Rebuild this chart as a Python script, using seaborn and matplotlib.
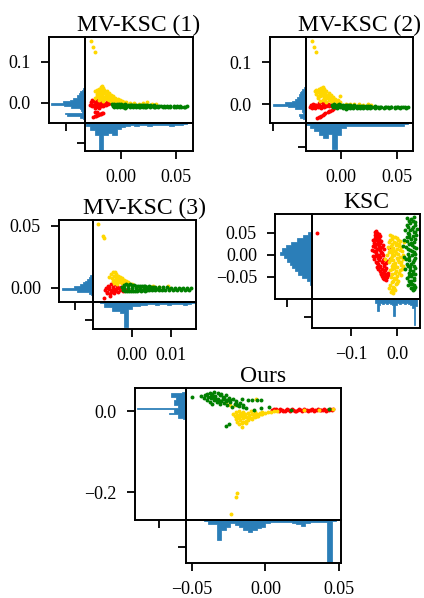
import numpy as np
import pandas as pd
import matplotlib
matplotlib.use("Agg")
import matplotlib.pyplot as plt
import seaborn as sns

# ---------------- MV-KSC (1) ----------------
p1_red = [(-0.028, -0.004), (-0.027, 0.002), (-0.026, -0.008), (-0.025, 0.004), (-0.024, -0.002),
          (-0.023, -0.010), (-0.022, 0.006), (-0.021, 0.000), (-0.020, -0.006), (-0.019, 0.003),
          (-0.018, -0.003), (-0.017, 0.005), (-0.016, -0.008), (-0.015, 0.001), (-0.014, -0.004),
          (-0.013, 0.003), (-0.012, -0.002), (-0.011, 0.002), (-0.010, -0.001), (-0.009, 0.000),
          (-0.024, -0.012), (-0.020, -0.013), (-0.026, 0.006), (-0.027, -0.006), (-0.025, -0.004),
          (-0.023, 0.002), (-0.021, -0.004), (-0.019, -0.002), (-0.017, -0.001), (-0.015, -0.004),
          (-0.013, 0.000), (-0.022, -0.008), (-0.018, -0.007),
          (-0.0255, -0.034), (-0.024, -0.032), (-0.023, -0.031), (-0.022, -0.030), (-0.021, -0.029),
          (-0.020, -0.028), (-0.019, -0.027), (-0.018, -0.026), (-0.017, -0.025), (-0.0165, -0.024),
          (-0.0236, -0.0227), (-0.022, -0.021)]
p1_gold = [(-0.0273, 0.151), (-0.0252, 0.136), (-0.0234, 0.124),
           (-0.0235, 0.028), (-0.022, 0.031), (-0.020, 0.033), (-0.018, 0.038), (-0.0175, 0.041),
           (-0.016, 0.036), (-0.015, 0.032), (-0.013, 0.028), (-0.011, 0.024), (-0.009, 0.020),
           (-0.007, 0.016), (-0.005, 0.012), (-0.003, 0.009), (-0.001, 0.006), (0.001, 0.004),
           (0.003, 0.003), (-0.022, 0.022), (-0.020, 0.025), (-0.018, 0.027), (-0.016, 0.024),
           (-0.014, 0.020), (-0.012, 0.017), (-0.010, 0.014), (-0.008, 0.011), (-0.006, 0.008),
           (-0.004, 0.006), (-0.002, 0.004), (-0.024, 0.012), (-0.021, 0.015), (-0.019, 0.018),
           (-0.017, 0.013), (-0.015, 0.010), (-0.013, 0.009), (-0.011, 0.007), (-0.009, 0.005),
           (-0.007, 0.003), (-0.005, 0.002), (-0.020, 0.008), (-0.016, 0.004),
           (-0.021, 0.028), (-0.019, 0.031), (-0.017, 0.034), (-0.017, 0.029), (-0.015, 0.027),
           (-0.013, 0.023), (-0.011, 0.019), (-0.009, 0.016), (-0.007, 0.012), (-0.005, 0.009),
           (-0.019, 0.022), (-0.017, 0.019), (-0.015, 0.015), (-0.013, 0.012), (-0.022, 0.018),
           (-0.018, 0.010),
           (0.005, 0.002), (0.008, -0.001), (0.012, 0.001), (0.016, -0.002), (0.020, -0.001),
           (0.024, 0.002), (0.028, -0.003), (0.032, -0.002)]
p1_green = [(-0.008, -0.003), (-0.006, -0.002), (-0.004, -0.003), (-0.002, -0.002), (0.000, -0.003),
            (0.002, -0.004), (0.004, -0.003), (0.006, -0.004), (0.008, -0.004), (0.010, -0.005),
            (0.012, -0.004), (0.014, -0.005), (0.016, -0.005), (0.018, -0.006), (0.020, -0.005),
            (0.022, -0.006), (0.024, -0.006), (0.026, -0.006), (0.028, -0.007), (0.030, -0.006),
            (0.033, -0.007), (0.036, -0.007), (0.039, -0.007), (0.042, -0.008), (0.045, -0.007),
            (0.048, -0.008), (0.051, -0.008), (0.054, -0.008), (0.057, -0.009), (0.060, -0.008),
            (-0.007, -0.008), (-0.004, -0.010), (-0.001, -0.009), (0.002, -0.011), (0.005, -0.010),
            (0.008, -0.011), (0.011, -0.010), (0.014, -0.011), (0.017, -0.010), (0.020, -0.011),
            (0.023, -0.010), (0.026, -0.011), (0.030, -0.010), (0.034, -0.010), (0.038, -0.010),
            (0.043, -0.010), (0.048, -0.010), (0.053, -0.010), (0.058, -0.010),
            (-0.005, -0.006), (0.001, -0.007), (0.007, -0.007), (0.013, -0.008), (0.019, -0.008),
            (0.025, -0.008), (0.031, -0.009), (0.040, -0.009), (0.050, -0.009),
            (-0.007, -0.005), (-0.003, -0.006), (0.003, -0.006), (0.009, -0.006), (0.015, -0.007),
            (0.021, -0.007), (0.027, -0.007), (0.035, -0.008), (0.045, -0.009), (0.055, -0.009),
            (-0.006, -0.009), (0.004, -0.012), (0.010, -0.008), (0.016, -0.009), (0.022, -0.009)]
p1_ybins = (-0.040, 0.004)
p1_ycounts = [2, 5, 18, 20, 3, 4, 5, 14, 21, 34, 22, 15, 12, 8, 8, 6, 5, 3, 2]
p1_xbins = (-0.032, 0.004)
p1_xcounts = [3, 7, 12, 27, 12, 10, 12, 6, 4, 3, 2, 3, 2, 2, 3, 2, 2, 2, 2, 3, 2, 2, 1]

# ---------------- MV-KSC (2) ----------------
p2_red = [(-0.028, -0.006), (-0.027, -0.002), (-0.026, -0.009), (-0.025, 0.000), (-0.024, -0.005),
          (-0.023, -0.010), (-0.022, -0.002), (-0.021, -0.007), (-0.020, 0.002), (-0.019, -0.004),
          (-0.018, -0.009), (-0.017, 0.004), (-0.016, -0.003), (-0.0155, 0.009), (-0.015, -0.007),
          (-0.014, 0.001), (-0.013, -0.004), (-0.012, -0.001), (-0.011, -0.005), (-0.010, -0.002),
          (-0.009, -0.003), (-0.008, -0.004), (-0.027, -0.004), (-0.025, -0.007), (-0.023, -0.003),
          (-0.021, -0.004), (-0.019, -0.007), (-0.017, -0.005), (-0.013, -0.002), (-0.024, -0.002),
          (-0.0217, -0.034), (-0.020, -0.031), (-0.018, -0.028), (-0.016, -0.025), (-0.014, -0.022),
          (-0.012, -0.019), (-0.010, -0.016), (-0.008, -0.013), (-0.006, -0.010), (-0.004, -0.007),
          (-0.019, -0.030), (-0.015, -0.024), (-0.011, -0.017), (-0.007, -0.011)]
p2_gold = [(-0.0256, 0.150), (-0.0238, 0.135), (-0.0223, 0.123),
           (-0.0235, 0.030), (-0.022, 0.033), (-0.020, 0.036), (-0.018, 0.039), (-0.016, 0.041),
           (-0.015, 0.037), (-0.013, 0.032), (-0.011, 0.027), (-0.009, 0.022), (-0.007, 0.017),
           (-0.005, 0.013), (-0.003, 0.009), (-0.001, 0.006), (-0.022, 0.024), (-0.020, 0.028),
           (-0.018, 0.031), (-0.016, 0.030), (-0.014, 0.026), (-0.012, 0.021), (-0.010, 0.017),
           (-0.008, 0.013), (-0.006, 0.009), (-0.004, 0.006), (-0.021, 0.015), (-0.019, 0.019),
           (-0.017, 0.022), (-0.015, 0.018), (-0.013, 0.014), (-0.011, 0.010), (-0.009, 0.008),
           (-0.007, 0.005), (-0.019, 0.008), (-0.016, 0.010), (-0.013, 0.006), (-0.001, 0.019),
           (-0.021, 0.030), (-0.019, 0.034), (-0.017, 0.036), (-0.017, 0.027), (-0.015, 0.023),
           (-0.013, 0.019), (-0.011, 0.015), (-0.009, 0.012), (-0.007, 0.010), (-0.019, 0.024),
           (-0.021, 0.020), (-0.015, 0.013), (-0.011, 0.012),
           (0.004, 0.000), (0.008, 0.001), (0.012, -0.001), (0.016, 0.000), (0.020, -0.002),
           (0.024, 0.001), (0.027, -0.002)]
p2_green = [(-0.008, -0.002), (-0.006, -0.001), (-0.004, -0.002), (-0.002, -0.001), (0.000, -0.002),
            (0.002, -0.003), (0.004, -0.002), (0.006, -0.003), (0.008, -0.003), (0.010, -0.004),
            (0.012, -0.003), (0.014, -0.004), (0.016, -0.004), (0.018, -0.005), (0.020, -0.004),
            (0.022, -0.005), (0.024, -0.005), (0.026, -0.005), (0.028, -0.006), (0.030, -0.005),
            (0.033, -0.006), (0.036, -0.006), (0.039, -0.006), (0.042, -0.007), (0.045, -0.006),
            (0.048, -0.007), (0.051, -0.007), (0.054, -0.007), (0.057, -0.008), (0.060, -0.007),
            (-0.007, -0.007), (-0.004, -0.009), (-0.001, -0.008), (0.002, -0.009), (0.005, -0.009),
            (0.008, -0.010), (0.011, -0.009), (0.014, -0.010), (0.017, -0.009), (0.020, -0.010),
            (0.023, -0.009), (0.026, -0.010), (0.030, -0.009), (0.034, -0.010), (0.038, -0.009),
            (0.043, -0.010), (0.048, -0.009), (0.053, -0.010), (0.058, -0.010),
            (-0.005, -0.005), (0.001, -0.006), (0.007, -0.006), (0.013, -0.007), (0.019, -0.007),
            (0.025, -0.007), (0.031, -0.008), (0.040, -0.008), (0.050, -0.008),
            (-0.007, -0.004), (-0.003, -0.005), (0.003, -0.005), (0.009, -0.005), (0.015, -0.006),
            (0.021, -0.006), (0.027, -0.006), (0.035, -0.007), (0.045, -0.008), (0.055, -0.008),
            (-0.006, -0.008), (0.004, -0.011), (0.010, -0.007), (0.016, -0.008), (0.022, -0.008)]
p2_ybins = (-0.036, 0.004)
p2_ycounts = [3, 6, 7, 3, 4, 4, 11, 18, 33, 21, 14, 11, 9, 7, 7, 6, 5, 4, 2]
p2_xbins = (-0.032, 0.004)
p2_xcounts = [2, 5, 8, 12, 15, 11, 26, 12, 5, 3, 3, 3, 3, 3, 3, 3, 3, 3, 3, 3, 3, 3, 1]

# ---------------- MV-KSC (3) ----------------
p3_red = [(-0.0068, -0.002), (-0.0065, 0.000), (-0.0063, -0.004), (-0.0060, 0.002), (-0.0058, -0.001),
          (-0.0055, -0.005), (-0.0053, 0.003), (-0.0050, -0.002), (-0.0048, 0.001), (-0.0045, -0.004),
          (-0.0043, 0.0035), (-0.0040, -0.001), (-0.0038, 0.002), (-0.0035, -0.003), (-0.0033, 0.000),
          (-0.0030, -0.0015), (-0.0028, 0.001), (-0.0069, -0.0083), (-0.0055, -0.0065),
          (-0.0062, -0.003), (-0.0057, 0.001), (-0.0052, -0.0035), (-0.0047, -0.001), (-0.0042, -0.0025),
          (-0.0022, -0.0025), (-0.0018, -0.002), (-0.0013, -0.0015), (-0.0010, -0.001)]
p3_gold = [(-0.0084, 0.0516), (-0.0072, 0.0422), (-0.0070, 0.0406),
           (-0.0056, 0.009), (-0.0052, 0.011), (-0.0047, 0.0125), (-0.0043, 0.0128), (-0.0040, 0.0115),
           (-0.0035, 0.010), (-0.0030, 0.009), (-0.0025, 0.008), (-0.0020, 0.0065), (-0.0015, 0.0055),
           (-0.0010, 0.0045), (-0.0005, 0.0035), (0.0000, 0.003), (0.0003, 0.0024),
           (-0.0050, 0.0080), (-0.0045, 0.0095), (-0.0040, 0.0090), (-0.0035, 0.0075), (-0.0030, 0.0065),
           (-0.0025, 0.0055), (-0.0020, 0.0045), (-0.0015, 0.0035), (-0.0010, 0.0028),
           (-0.0048, 0.0060), (-0.0042, 0.0068), (-0.0036, 0.0058), (-0.0030, 0.0045), (-0.0025, 0.0038),
           (-0.0045, 0.0040), (-0.0038, 0.0030),
           (0.0015, 0.0008), (0.003, 0.001), (0.0049, 0.001), (0.0055, 0.0012), (0.007, 0.0006),
           (0.0091, 0.0016)]
p3_green = [(-0.0025, 0.0010), (-0.0020, 0.0025), (-0.0015, 0.0030), (-0.0010, 0.0025), (-0.0005, 0.0030),
            (0.0000, 0.0025), (0.0005, 0.0022), (0.0010, 0.0020), (0.0015, 0.0018), (0.0020, 0.0015),
            (0.0025, 0.0018), (0.0030, 0.0012), (0.0035, 0.0015), (0.0040, 0.0010), (0.0045, 0.0012),
            (0.0050, 0.0010), (0.0055, 0.0008), (0.0060, 0.0010), (0.0070, 0.0005), (0.0080, 0.0006),
            (0.0090, 0.0004), (0.0100, 0.0003), (0.0110, 0.0002), (0.0120, 0.0002), (0.0130, 0.0000),
            (0.0140, 0.0000), (0.0150, -0.0001),
            (-0.0022, -0.0020), (-0.0017, -0.0025), (-0.0012, -0.0028), (-0.0007, -0.0025), (-0.0002, -0.0028),
            (0.0003, -0.0024), (0.0008, -0.0022), (0.0013, -0.0024), (0.0018, -0.0020), (0.0023, -0.0022),
            (0.0028, -0.0020), (0.0033, -0.0021), (0.0038, -0.0019), (0.0045, -0.0020), (0.0052, -0.0018),
            (0.0060, -0.0019), (0.0068, -0.0017), (0.0076, -0.0018), (0.0085, -0.0016), (0.0095, -0.0017),
            (0.0105, -0.0015), (0.0115, -0.0016), (0.0125, -0.0014), (0.0135, -0.0015), (0.0145, -0.0014),
            (-0.0018, 0.0000), (-0.0008, -0.0003), (0.0002, 0.0000), (0.0012, -0.0004), (0.0022, -0.0002),
            (0.0032, -0.0005), (0.0042, -0.0004), (0.0055, -0.0006), (0.0065, -0.0005), (0.0080, -0.0007),
            (0.0095, -0.0006), (0.0110, -0.0007), (0.0125, -0.0007), (0.0140, -0.0008)]
p3_ybins = (-0.006, 0.0015)
p3_ycounts = [2, 4, 16, 31, 19, 13, 10, 8, 6, 4, 3, 1]
p3_xbins = (-0.008, 0.001)
p3_xcounts = [1, 5, 5, 9, 9, 11, 25, 7, 4, 4, 3, 3, 2, 2, 3, 2, 2, 3, 2, 2, 2, 3, 2, 1]

# ---------------- KSC ----------------
p4_red = [(-0.1746, 0.0493),
          (-0.045, 0.055), (-0.043, 0.050), (-0.047, 0.046), (-0.041, 0.044), (-0.044, 0.040),
          (-0.049, 0.038), (-0.039, 0.036), (-0.046, 0.033), (-0.042, 0.030), (-0.050, 0.028),
          (-0.036, 0.027), (-0.044, 0.024), (-0.040, 0.020), (-0.047, 0.018), (-0.033, 0.017),
          (-0.043, 0.014), (-0.038, 0.011), (-0.050, 0.009), (-0.035, 0.007), (-0.045, 0.004),
          (-0.040, 0.001), (-0.030, 0.000), (-0.047, -0.003), (-0.036, -0.005), (-0.042, -0.008),
          (-0.028, -0.009), (-0.039, -0.012), (-0.046, -0.015), (-0.033, -0.016), (-0.025, -0.018),
          (-0.041, -0.020), (-0.036, -0.024), (-0.029, -0.026), (-0.044, -0.028), (-0.033, -0.031),
          (-0.026, -0.034), (-0.038, -0.036), (-0.030, -0.040), (-0.035, -0.044), (-0.027, -0.047),
          (-0.022, -0.050), (-0.031, -0.052), (-0.024, -0.056), (-0.055, 0.012), (-0.052, -0.002),
          (-0.020, -0.040), (-0.015, -0.010), (-0.018, 0.015),
          (-0.048, 0.051), (-0.040, 0.048), (-0.038, 0.042), (-0.052, 0.035), (-0.034, 0.032),
          (-0.048, 0.025), (-0.030, 0.022), (-0.053, 0.020), (-0.037, 0.016), (-0.028, 0.013),
          (-0.046, 0.010), (-0.032, 0.004), (-0.043, -0.001), (-0.050, -0.010), (-0.031, -0.012),
          (-0.022, -0.014), (-0.044, -0.018), (-0.028, -0.021), (-0.039, -0.028), (-0.023, -0.029),
          (-0.041, -0.033), (-0.029, -0.036), (-0.034, -0.040), (-0.025, -0.043), (-0.032, -0.048),
          (-0.019, -0.046), (-0.028, -0.054)]
p4_gold = [(-0.015, 0.045), (-0.005, 0.040), (-0.010, 0.036), (0.002, 0.034), (-0.018, 0.030),
           (-0.006, 0.029), (0.005, 0.026), (-0.012, 0.024), (-0.002, 0.022), (-0.020, 0.019),
           (0.008, 0.018), (-0.008, 0.016), (0.001, 0.013), (-0.015, 0.011), (-0.004, 0.009),
           (0.010, 0.008), (-0.011, 0.005), (0.003, 0.003), (-0.022, 0.001), (-0.007, -0.001),
           (0.006, -0.004), (-0.014, -0.006), (-0.001, -0.008), (0.012, -0.010), (-0.009, -0.012),
           (0.004, -0.015), (-0.018, -0.017), (-0.004, -0.019), (0.008, -0.022), (-0.012, -0.024),
           (0.001, -0.027), (-0.007, -0.030), (0.010, -0.032), (-0.015, -0.035), (-0.002, -0.037),
           (0.005, -0.041), (-0.010, -0.044), (0.000, -0.048), (-0.006, -0.053), (0.003, -0.058),
           (-0.012, -0.062), (-0.003, -0.067), (-0.009, -0.072), (-0.018, -0.075), (-0.004, -0.079),
           (-0.014, -0.084), (-0.008, -0.086), (0.015, 0.030), (-0.026, -0.010),
           (-0.012, 0.042), (0.000, 0.038), (-0.016, 0.033), (0.007, 0.031), (-0.003, 0.027),
           (-0.014, 0.020), (0.004, 0.020), (-0.010, 0.012), (0.006, 0.011), (-0.018, 0.007),
           (-0.002, 0.004), (0.013, 0.001), (-0.010, -0.003), (0.002, -0.011), (-0.016, -0.011),
           (0.009, -0.016), (-0.008, -0.020), (0.013, -0.024), (-0.004, -0.025), (-0.011, -0.032),
           (0.006, -0.035), (-0.005, -0.042), (0.008, -0.046), (-0.013, -0.050), (-0.002, -0.055),
           (-0.008, -0.060), (0.000, -0.064), (-0.015, -0.068), (-0.006, -0.076), (-0.011, -0.080)]
p4_green = [(0.037, 0.087), (0.021, 0.083), (0.034, 0.078), (0.028, 0.072), (0.039, 0.068),
            (0.024, 0.064), (0.032, 0.060), (0.018, 0.056), (0.036, 0.052), (0.027, 0.048),
            (0.041, 0.045), (0.022, 0.041), (0.031, 0.037), (0.015, 0.034), (0.038, 0.030),
            (0.026, 0.026), (0.033, 0.022), (0.019, 0.018), (0.042, 0.015), (0.029, 0.011),
            (0.036, 0.007), (0.023, 0.003), (0.032, -0.001), (0.016, -0.005), (0.039, -0.008),
            (0.027, -0.012), (0.034, -0.016), (0.021, -0.020), (0.037, -0.024), (0.029, -0.028),
            (0.018, -0.032), (0.035, -0.036), (0.025, -0.040), (0.040, -0.044), (0.030, -0.048),
            (0.022, -0.052), (0.036, -0.056), (0.027, -0.060), (0.033, -0.065), (0.024, -0.069),
            (0.039, -0.072), (0.030, -0.076), (0.035, -0.080), (0.012, 0.020), (0.043, 0.060),
            (0.030, 0.082), (0.025, 0.076), (0.040, 0.075), (0.021, 0.068), (0.035, 0.064),
            (0.029, 0.057), (0.040, 0.053), (0.023, 0.050), (0.034, 0.044), (0.027, 0.040),
            (0.039, 0.036), (0.021, 0.031), (0.030, 0.028), (0.037, 0.019), (0.024, 0.014),
            (0.032, 0.009), (0.040, 0.002), (0.027, -0.004), (0.020, -0.010), (0.036, -0.012),
            (0.031, -0.020), (0.024, -0.026), (0.040, -0.030), (0.028, -0.034), (0.033, -0.043),
            (0.026, -0.047), (0.038, -0.052), (0.031, -0.058), (0.028, -0.066), (0.036, -0.068),
            (0.033, -0.074), (0.038, -0.078)]
p4_ybins = (-0.0675, 0.0075)
p4_ycounts = [2, 5, 10, 14, 17, 20, 22, 25, 28, 32, 30, 26, 21, 15, 9, 4, 1]
p4_xbins = (-0.048, 0.004)
p4_xcounts = [4, 12, 6, 4, 5, 4, 5, 4, 5, 6, 17, 6, 4, 5, 4, 4, 5, 4, 5, 6, 9, 26, 7]

# ---------------- Ours ----------------
p5_red = [(0.006, 0.005), (0.008, 0.002), (0.010, 0.004), (0.012, 0.001), (0.014, 0.003),
          (0.016, 0.002), (0.018, 0.004), (0.020, 0.001), (0.022, 0.003), (0.024, 0.002),
          (0.026, 0.004), (0.028, 0.002), (0.030, 0.003), (0.032, 0.004), (0.034, 0.002),
          (0.036, 0.004), (0.038, 0.003), (0.040, 0.005), (0.042, 0.003), (0.044, 0.004),
          (0.046, 0.005), (0.009, -0.001), (0.013, 0.000), (0.017, -0.001), (0.021, 0.001),
          (0.025, 0.000), (0.029, 0.001), (0.033, 0.001), (0.037, 0.002), (0.041, 0.001),
          (0.045, 0.002), (0.0045, 0.003), (0.0075, 0.006),
          (0.011, 0.003), (0.015, 0.004), (0.019, 0.002), (0.023, 0.004), (0.027, 0.003),
          (0.031, 0.002), (0.035, 0.003), (0.039, 0.003), (0.043, 0.002)]
p5_gold = [(-0.022, -0.006), (-0.020, -0.003), (-0.018, -0.001), (-0.021, -0.012), (-0.019, -0.009),
           (-0.017, -0.005), (-0.015, -0.002), (-0.020, -0.020), (-0.018, -0.016), (-0.016, -0.012),
           (-0.014, -0.008), (-0.012, -0.004), (-0.010, -0.001), (-0.019, -0.026), (-0.017, -0.022),
           (-0.015, -0.018), (-0.013, -0.014), (-0.011, -0.010), (-0.009, -0.006), (-0.007, -0.003),
           (-0.018, -0.032), (-0.015, -0.027), (-0.012, -0.021), (-0.010, -0.016), (-0.008, -0.012),
           (-0.006, -0.008), (-0.004, -0.005), (-0.002, -0.002), (-0.016, -0.039), (-0.013, -0.030),
           (-0.009, -0.020), (-0.005, -0.013), (-0.002, -0.008), (0.000, -0.005), (0.002, -0.003),
           (0.004, -0.002), (0.006, 0.000), (0.008, 0.001),
           (-0.014, -0.012), (-0.017, -0.010), (-0.011, -0.018), (-0.013, -0.024), (-0.007, -0.015),
           (-0.016, -0.030), (-0.006, -0.011), (-0.003, -0.006), (-0.019, -0.015), (-0.015, -0.006),
           (-0.008, -0.009),
           (-0.0267, 0.023), (-0.021, 0.0148), (-0.0063, 0.031), (-0.024, 0.016),
           (0.0265, 0.0025), (0.0367, 0.003), (0.0458, 0.005),
           (-0.0195, -0.2017), (-0.0199, -0.2116), (-0.0233, -0.254)]
p5_green = [(-0.0347, 0.046), (-0.038, 0.044), (-0.032, 0.045), (-0.041, 0.040), (-0.036, 0.041),
            (-0.030, 0.042), (-0.027, 0.040), (-0.039, 0.036), (-0.034, 0.037), (-0.029, 0.036),
            (-0.042, 0.033), (-0.037, 0.032), (-0.032, 0.031), (-0.025, 0.033), (-0.040, 0.028),
            (-0.035, 0.027), (-0.030, 0.026), (-0.026, 0.028), (-0.022, 0.030), (-0.038, 0.023),
            (-0.033, 0.022), (-0.028, 0.021), (-0.024, 0.023), (-0.020, 0.025), (-0.036, 0.018),
            (-0.031, 0.017), (-0.026, 0.015), (-0.021, 0.018), (-0.017, 0.020), (-0.023, 0.011),
            (-0.018, 0.012), (-0.015, 0.009), (-0.013, 0.007), (-0.012, 0.027), (-0.009, 0.028),
            (-0.006, 0.027), (-0.003, 0.027), (-0.0499, 0.035), (-0.0267, -0.036), (-0.0245, -0.033),
            (0.0027, 0.0106), (0.0175, 0.0025), (0.0435, 0.005), (-0.044, 0.038), (-0.016, 0.030),
            (-0.003, 0.0067), (-0.0075, 0.0025),
            (-0.040, 0.043), (-0.035, 0.035), (-0.031, 0.039), (-0.028, 0.033), (-0.033, 0.028),
            (-0.037, 0.038), (-0.024, 0.027), (-0.029, 0.030), (-0.034, 0.032), (-0.031, 0.024),
            (-0.027, 0.024), (-0.020, 0.021), (-0.015, 0.015), (-0.019, 0.016)]
p5_ybins = (-0.020, 0.004)
p5_ycounts = [3, 8, 8, 17, 12, 12, 49, 8, 8, 12, 12, 12, 10, 10, 15, 15, 4]
p5_xbins = (-0.042, 0.003)
p5_xcounts = [1, 4, 4, 20, 10, 7, 3, 5, 7, 10, 12, 10, 8, 7, 3, 2, 2, 2, 2, 2,
              3, 4, 6, 3, 2, 2, 2, 2, 42, 1]

BLUE = "#1f77b4"

sns.set_style("ticks", rc={"axes.edgecolor": "black", "xtick.color": "black",
                           "ytick.color": "black", "text.color": "black"})
plt.rcParams["font.family"] = ["Liberation Serif", "DejaVu Serif"]
plt.rcParams["axes.linewidth"] = 1.4
plt.rcParams["xtick.major.width"] = 1.3
plt.rcParams["ytick.major.width"] = 1.3
plt.rcParams["xtick.major.size"] = 6
plt.rcParams["ytick.major.size"] = 6
plt.rcParams["xtick.labelsize"] = 13
plt.rcParams["ytick.labelsize"] = 13

W, H = 424, 598
fig = plt.figure(figsize=(W / 100, H / 100), dpi=100)


def px_axes(x0, y0, x1, y1, **kw):
    return fig.add_axes([x0 / W, 1 - y1 / H, (x1 - x0) / W, (y1 - y0) / H], **kw)


def hist_frame(spec, counts):
    start, width = spec
    edges = start + width * np.arange(len(counts) + 1)
    mids = (edges[:-1] + edges[1:]) / 2
    return list(edges), pd.DataFrame({"v": mids, "w": counts})


def draw_panel(box, title, red, gold, green, ybins, ycounts, xbins, xcounts,
               xlim, ylim, xticks, yticks, lcount, bcount):
    x0, y0, x1, y1, xl, yb = box
    ax = px_axes(x0, y0, x1, y1)
    ax_l = px_axes(xl, y0, x0, y1, sharey=ax)
    ax_b = px_axes(x0, y1, x1, yb, sharex=ax)
    ax.set_zorder(3)

    for pts, col in [(red, "red"), (gold, "gold"), (green, "green")]:
        xs, ys = zip(*pts)
        sns.scatterplot(x=list(xs), y=list(ys), color=col, s=8, linewidth=0, ax=ax)

    edges, df = hist_frame(ybins, ycounts)
    sns.histplot(data=df, y="v", weights="w", bins=edges, element="step", color=BLUE,
                 alpha=0.95, linewidth=0.5, ax=ax_l)
    edges, df = hist_frame(xbins, xcounts)
    sns.histplot(data=df, x="v", weights="w", bins=edges, element="step", color=BLUE,
                 alpha=0.95, linewidth=0.5, ax=ax_b)

    ax.tick_params(left=False, bottom=False, labelleft=False, labelbottom=False)
    ax.set_title(title, fontsize=17, pad=4)

    ax_l.set_xlim(lcount[0], 0)
    ax_l.set_xticks([lcount[1]])
    ax_l.set_yticks(yticks)
    ax_l.tick_params(axis="x", labelbottom=False)
    ax_l.tick_params(axis="y", labelsize=13, pad=7)

    ax_b.set_ylim(bcount[0], 0)
    ax_b.set_yticks([bcount[1]])
    ax_b.set_xticks(xticks)
    ax_b.tick_params(axis="y", labelleft=False)
    ax_b.tick_params(axis="x", labelsize=13, pad=7)

    for a in (ax, ax_l, ax_b):
        a.set_xlabel("")
        a.set_ylabel("")
        for s in a.spines.values():
            s.set_visible(True)
            s.set_linewidth(1.4)
            s.set_color("black")
        a.patch.set_alpha(0)
    ax.set_xlim(*xlim)
    ax.set_ylim(*ylim)


draw_panel((85, 37, 193, 123, 49, 151), "MV-KSC (1)", p1_red, p1_gold, p1_green,
           p1_ybins, p1_ycounts, p1_xbins, p1_xcounts,
           (-0.0327, 0.0655), (-0.049, 0.161), [0.0, 0.05], [0.0, 0.1], (36, 19), (28, 20))
draw_panel((306, 37, 413, 123, 270, 151), "MV-KSC (2)", p2_red, p2_gold, p2_green,
           p2_ybins, p2_ycounts, p2_xbins, p2_xcounts,
           (-0.0313, 0.0643), (-0.045, 0.1595), [0.0, 0.05], [0.0, 0.1], (36, 33), (28, 24))
draw_panel((93, 220, 196, 302, 59, 329), "MV-KSC (3)", p3_red, p3_gold, p3_green,
           p3_ybins, p3_ycounts, p3_xbins, p3_xcounts,
           (-0.00975, 0.01625), (-0.0113, 0.0548), [0.0, 0.01], [0.0, 0.05], (34, 18), (27, 18))
draw_panel((312, 214, 420, 299, 275, 328), "KSC", p4_red, p4_gold, p4_green,
           p4_ybins, p4_ycounts, p4_xbins, p4_xcounts,
           (-0.185, 0.05), (-0.1, 0.093), [-0.1, 0.0], [-0.05, 0.0, 0.05], (37, 25), (29, 18))
draw_panel((186, 388, 341, 520, 135, 563), "Ours", p5_red, p5_gold, p5_green,
           p5_ybins, p5_ycounts, p5_xbins, p5_xcounts,
           (-0.054, 0.0514), (-0.269, 0.057), [-0.05, 0.0, 0.05], [-0.2, 0.0], (51, 27), (43, 27))

fig.savefig("out.png", dpi=100)
